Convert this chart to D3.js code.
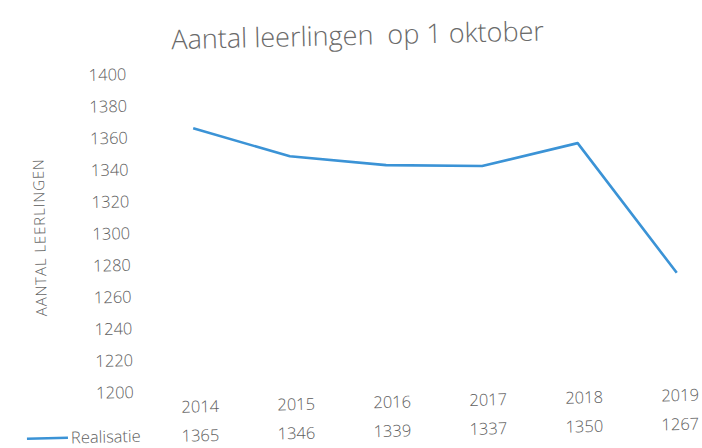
<!DOCTYPE html>
<html>
<head>
    <meta charset="utf-8">
    <style>
        body { margin: 0; background: #fff; }
        text { font-family: "Open Sans", Lato, sans-serif; fill: #606060; }
        .title { font-size: 27px; font-weight: 300; white-space: pre; fill: #6a6a6a; }
        .tick text, .val, .leg { font-size: 16.5px; font-weight: 300; }
        .ytitle { font-size: 15px; font-weight: 300; letter-spacing: 0.9px; }
    </style>
    <script src="https://d3js.org/d3.v7.min.js"></script>
</head>
<body>
<script>
    const years = ["2014", "2015", "2016", "2017", "2018", "2019"];
    const realisatie = [1365, 1346, 1339, 1337, 1350, 1267];
    const yTicks = [1200, 1220, 1240, 1260, 1280, 1300, 1320, 1340, 1360, 1380, 1400];

    const w = 702, h = 448;

    const svg = d3.select("body").append("svg")
        .attr("width", w)
        .attr("height", h);

    // the scan is slightly tilted
    const g = svg.append("g")
        .attr("transform", "rotate(-1.35, 351, 224)");

    const x = d3.scalePoint()
        .domain(years)
        .range([195.5, 675.5]);

    const y = d3.scaleLinear()
        .domain([1200, 1400])
        .range([387, 69]);

    g.append("text")
        .attr("class", "title")
        .attr("x", 362)
        .attr("y", 45)
        .attr("text-anchor", "middle")
        .text("Aantal leerlingen  op 1 oktober");

    const yAxis = d3.axisLeft(y)
        .tickValues(yTicks)
        .tickFormat(d3.format("d"))
        .tickSize(0)
        .tickPadding(8);

    g.append("g")
        .attr("transform", "translate(138,0)")
        .call(yAxis)
        .call(s => s.select(".domain").remove());

    g.append("text")
        .attr("class", "ytitle")
        .attr("transform", "translate(45,230) rotate(-90)")
        .attr("text-anchor", "middle")
        .text("AANTAL LEERLINGEN");

    const xAxis = d3.axisBottom(x)
        .tickSize(0);

    const xg = g.append("g")
        .attr("transform", "translate(0,403)")
        .call(xAxis)
        .call(s => s.select(".domain").remove());
    xg.selectAll("text").attr("y", 0).attr("dy", "0.35em");

    const line = d3.line()
        .x((d, i) => x(years[i]))
        .y(d => y(d));

    g.append("path")
        .datum(realisatie)
        .attr("fill", "none")
        .attr("stroke", "#3b93d6")
        .attr("stroke-width", 2.6)
        .attr("stroke-linejoin", "round")
        .attr("d", line);

    // data table row
    g.selectAll(".val")
        .data(realisatie)
        .enter()
        .append("text")
        .attr("class", "val")
        .attr("x", (d, i) => x(years[i]))
        .attr("y", 432)
        .attr("dy", "0.35em")
        .attr("text-anchor", "middle")
        .text(d => d);

    g.append("line")
        .attr("x1", 22).attr("x2", 63)
        .attr("y1", 431).attr("y2", 431)
        .attr("stroke", "#3b93d6")
        .attr("stroke-width", 2.6);

    g.append("text")
        .attr("class", "leg")
        .attr("x", 66)
        .attr("y", 431)
        .attr("dy", "0.35em")
        .text("Realisatie");
</script>
</body>
</html>
